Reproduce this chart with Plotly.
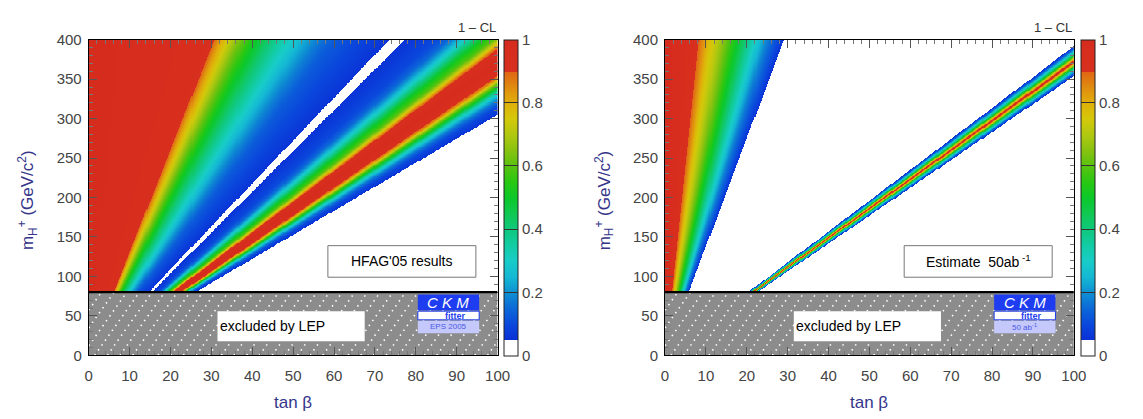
import numpy as np
import plotly.graph_objects as go

W, H = 1143, 419

# ---------------- data ----------------
# 1-CL depends on tan(beta)/m_H only: profiles are given along rays from the origin,
# K = tan(beta) at which the ray crosses m_H = 400 GeV/c^2.
LEFT_K = [0, 29, 30.7, 32, 34, 37, 40, 44, 48, 52, 56, 60, 65, 70, 73.3, 73.9, 75.4,
          76.9, 77.5, 80, 85, 88, 90, 93, 96, 99, 101, 102.5, 104, 108, 112, 114, 116,
          118, 120, 122, 124, 127, 131, 132, 400]
LEFT_CL = [1.0, 0.95, 0.9, 0.83, 0.75, 0.63, 0.53, 0.42, 0.33, 0.25, 0.18, 0.13, 0.1,
           0.075, 0.06, 0.03, 0.0, 0.03, 0.06, 0.07, 0.1, 0.15, 0.22, 0.35, 0.5, 0.6,
           0.75, 0.88, 0.95, 1.0, 0.95, 0.85, 0.65, 0.5, 0.35, 0.25, 0.17, 0.1, 0.06,
           0.0, 0.0]

RIGHT_K = [0, 7, 8.3, 9.8, 11, 12.5, 15, 17.8, 20.4, 22.7, 25, 27, 29, 29.6, 101.6,
           102.2, 103.2, 104.3, 105.5, 106.7, 107.6, 108.5, 109.7, 110.9, 112, 113,
           113.6, 400]
RIGHT_CL = [1.0, 0.95, 0.9, 0.83, 0.77, 0.72, 0.62, 0.5, 0.38, 0.28, 0.18, 0.12, 0.06,
            0.0, 0.0, 0.06, 0.15, 0.3, 0.5, 0.8, 1.0, 0.8, 0.5, 0.3, 0.15, 0.06, 0.0, 0.0]

TANB_TICKS = [0, 10, 20, 30, 40, 50, 60, 70, 80, 90, 100]
MH_TICKS = [0, 50, 100, 150, 200, 250, 300, 350, 400]
CL_TICKS = [0, 0.2, 0.4, 0.6, 0.8, 1]
CL_LABELS = ["0", "0.2", "0.4", "0.6", "0.8", "1"]
LEP_LIMIT = 80
PANEL_LABELS = ["HFAG'05 results", "Estimate  50ab<sup> -1</sup>"]
LOGO_LABELS = ["EPS 2005", "50 ab<sup>-1</sup>"]

# ---------------- styling ----------------
COLORSCALE = [
    [0.00, "#ffffff"], [0.05, "#ffffff"],
    [0.05, "#0a30d6"], [0.10, "#0a48dc"], [0.15, "#0c68d8"], [0.20, "#0e90d2"],
    [0.25, "#14b8d4"], [0.30, "#18ccc8"], [0.35, "#12cca4"], [0.40, "#10c87c"],
    [0.45, "#10c852"], [0.50, "#0cc82a"], [0.55, "#28c812"], [0.60, "#58c210"],
    [0.65, "#88c210"], [0.70, "#b0c810"], [0.75, "#d4c80a"], [0.80, "#e0b00a"],
    [0.85, "#e08c10"], [0.90, "#e06414"], [0.90, "#d8301e"], [1.00, "#d62c1e"],
]
FONT = "Liberation Sans"
TICKCOL = "#444444"
TITLECOL = "#35358a"

def px(x):
    return x / W

def py(y):
    return 1 - y / H

# plot frames in pixels
PANELS = [dict(x0=86, x1=501, cb=508), dict(x0=671, x1=1086, cb=1093)]
TOP, BOT = 32, 361

tanb = np.arange(0, 100.001, 0.25)
mh = np.arange(80, 400.001, 1.0)
TB, MH = np.meshgrid(tanb, mh)
KK = TB * 400.0 / MH

fig = go.Figure()
profiles = [(LEFT_K, LEFT_CL), (RIGHT_K, RIGHT_CL)]

for i, (pk, pcl) in enumerate(profiles):
    xa = "x" if i == 0 else "x2"
    ya = "y" if i == 0 else "y2"
    z = np.round(np.interp(KK, pk, pcl), 3)
    p = PANELS[i]
    fig.add_trace(go.Heatmap(
        x=tanb, y=mh, z=z, xaxis=xa, yaxis=ya, zmin=0, zmax=1,
        colorscale=COLORSCALE, hoverinfo="skip",
        colorbar=dict(
            x=px(p["cb"]), xanchor="left", y=py((TOP + BOT) / 2), yanchor="middle",
            len=(BOT - TOP) / H, lenmode="fraction", thickness=14, thicknessmode="pixels",
            outlinecolor="#222", outlinewidth=1,
            tickvals=CL_TICKS, ticktext=CL_LABELS, ticks="inside", ticklen=14,
            tickwidth=1.2, tickcolor="#333",
            tickfont=dict(family=FONT, size=15, color=TICKCOL), xpad=0, ypad=0,
        ),
    ))
    # dotted hatching of LEP excluded region
    hx, hy = [], []
    slope = 7.3
    span = LEP_LIMIT / slope
    c = -span
    while c < 100:
        t0, t1 = c, c + span
        a0 = max(t0, 0.0)
        a1 = min(t1, 100.0)
        if a1 > a0:
            hx += [a0, a1, None]
            hy += [slope * (a0 - c), slope * (a1 - c), None]
        c += 3.1
    fig.add_trace(go.Scatter(
        x=hx, y=hy, xaxis=xa, yaxis=ya, mode="lines", hoverinfo="skip",
        line=dict(color="white", width=1.6, dash="1.5px,4.5px"), showlegend=False,
    ))

shapes = []
annotations = []
for i in range(2):
    xr = "x" if i == 0 else "x2"
    yr = "y" if i == 0 else "y2"
    p = PANELS[i]
    shapes.append(dict(type="rect", xref=xr, yref=yr, x0=0, x1=100, y0=0, y1=LEP_LIMIT,
                       fillcolor="#8c8c8c", line=dict(width=0), layer="below"))
    shapes.append(dict(type="line", xref=xr, yref=yr, x0=0, x1=100, y0=LEP_LIMIT,
                       y1=LEP_LIMIT, line=dict(color="black", width=2.2)))
    shapes.append(dict(type="rect", xref=xr, yref=yr, x0=31.5, x1=67.5, y0=18, y1=56,
                       fillcolor="white", line=dict(width=0)))
    annotations.append(dict(xref=xr, yref=yr, x=45, y=37, text="excluded by LEP",
                            showarrow=False, font=dict(family=FONT, size=14, color="black")))
    shapes.append(dict(type="rect", xref=xr, yref=yr, x0=58.5, x1=94.7, y0=99, y1=139,
                       fillcolor="white", line=dict(color="#777", width=1)))
    annotations.append(dict(xref=xr, yref=yr, x=76.6, y=119, text=PANEL_LABELS[i],
                            showarrow=False, font=dict(family=FONT, size=14, color="black")))
    # CKMfitter logo
    shapes.append(dict(type="rect", xref=xr, yref=yr, x0=80.5, x1=95.5, y0=57, y1=77,
                       fillcolor="#1e3cf0", line=dict(width=0)))
    shapes.append(dict(type="rect", xref=xr, yref=yr, x0=80.5, x1=95.5, y0=45, y1=56,
                       fillcolor="white", line=dict(color="#1e3cf0", width=1)))
    shapes.append(dict(type="rect", xref=xr, yref=yr, x0=80.5, x1=95.5, y0=28, y1=44,
                       fillcolor="#c4c8fa", line=dict(width=0)))
    annotations.append(dict(xref=xr, yref=yr, x=88, y=67, text="<i>C K M</i>",
                            showarrow=False,
                            font=dict(family=FONT, size=15, color="white")))
    annotations.append(dict(xref=xr, yref=yr, x=89.5, y=50.5, text="<b>fitter</b>",
                            showarrow=False,
                            font=dict(family=FONT, size=9, color="#1e3cf0")))
    annotations.append(dict(xref=xr, yref=yr, x=88, y=36, text=LOGO_LABELS[i],
                            showarrow=False,
                            font=dict(family=FONT, size=8, color="#4a5ae8")))
    annotations.append(dict(xref="paper", yref="paper",
                            x=px((p["x0"] + p["x1"]) / 2), y=py(410), text="tan β",
                            showarrow=False, xanchor="center", yanchor="middle",
                            font=dict(family=FONT, size=17, color=TITLECOL)))
    annotations.append(dict(xref="paper", yref="paper",
                            x=px(p["x0"] - 62), y=py((TOP + BOT) / 2 + 3),
                            text="m<sub>H</sub><sup>+</sup> (GeV/c<sup>2</sup>)",
                            textangle=-90, showarrow=False, xanchor="center",
                            yanchor="middle",
                            font=dict(family=FONT, size=17, color=TITLECOL)))
    annotations.append(dict(xref="paper", yref="paper", x=px(p["x1"]), y=py(19),
                            text="1 – CL", showarrow=False, xanchor="right",
                            yanchor="middle",
                            font=dict(family=FONT, size=13, color="#333")))

axis_common = dict(showline=True, mirror="allticks", linecolor="black", linewidth=1,
                   ticks="inside", ticklen=8, tickcolor="#555", showgrid=False,
                   zeroline=False, tickfont=dict(family=FONT, size=15, color=TICKCOL))

layout = dict(
    width=W, height=H, margin=dict(l=0, r=0, t=0, b=0),
    paper_bgcolor="white", plot_bgcolor="white", showlegend=False,
    shapes=shapes, annotations=annotations,
)
for i in range(2):
    p = PANELS[i]
    sx = "" if i == 0 else "2"
    layout["xaxis" + sx] = dict(axis_common, domain=[px(p["x0"]), px(p["x1"])],
                                range=[0, 100], tickvals=TANB_TICKS,
                                anchor="y" + sx, ticklabelstandoff=7,
                                minor=dict(ticks="inside", ticklen=4, dtick=2,
                                           tickcolor="#777"))
    layout["yaxis" + sx] = dict(axis_common, domain=[py(BOT), py(TOP)],
                                range=[0, 400], tickvals=MH_TICKS,
                                anchor="x" + sx, ticklabelstandoff=3,
                                minor=dict(ticks="inside", ticklen=4, dtick=10,
                                           tickcolor="#777"))

fig.update_layout(**layout)
fig.write_html("out.html")
